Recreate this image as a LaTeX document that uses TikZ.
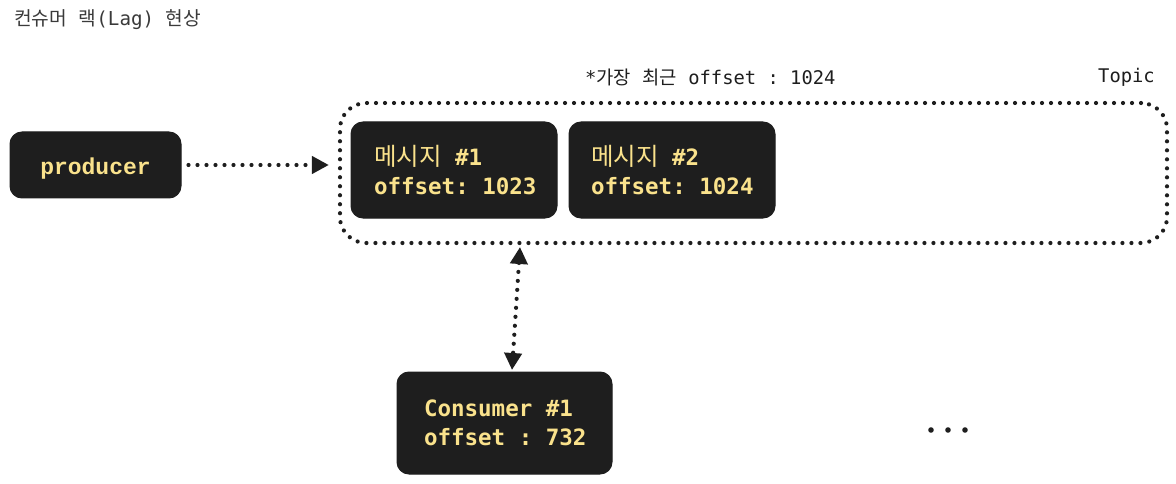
\documentclass[tikz,border=0pt]{standalone}
\usepackage{fontspec}
\setmonofont{DejaVu Sans Mono}
\newfontfamily\kr{Noto Sans CJK KR}
\newfontfamily\slab{Liberation Mono}
\usetikzlibrary{arrows.meta}
\definecolor{boxbg}{HTML}{1E1E1E}
\definecolor{boxtxt}{HTML}{FAE28C}
\definecolor{ink}{HTML}{1E1E1E}
\definecolor{titlegray}{HTML}{3A3A3A}
\newcommand{\msp}{\hspace*{0.602em}}
\newcommand{\krbox}[1]{{\kr\mdseries\fontsize{24.5}{29}\selectfont #1}}
\tikzset{
  darkbox/.style={fill=boxbg, draw=boxbg, rounded corners=12pt, line width=1pt,
    text=boxtxt, font=\fontsize{22.5}{29}\selectfont\ttfamily\bfseries},
  dotline/.style={draw=ink, line width=4.2pt, line cap=round, dash pattern=on 0pt off 9pt},
  tip/.style={-{Triangle[length=17pt,width=17pt]}},
  plain/.style={font=\fontsize{18.8}{22}\selectfont\ttfamily, text=ink, inner sep=0pt}
}
\begin{document}
\begin{tikzpicture}[x=1pt,y=-1pt]
\useasboundingbox (0,0) rectangle (1176,484);
% title
\node[plain, font=\fontsize{19.2}{22}\selectfont\ttfamily, text=titlegray, anchor=west] (title) at (14,20) {{\kr 컨슈머}\msp{\kr 랙}(Lag)\msp{\kr 현상}};
% labels
\node[plain, anchor=west] (latest) at (585,77) {*{\kr 가장}\msp{\kr 최근}\msp offset\msp:\msp1024};
\node[plain, anchor=west] (topiclbl) at (1098,77) {Topic};
% topic container
\node[dotline, rounded corners=26pt, minimum width=827pt, minimum height=140pt, inner sep=0pt] (topic) at (753.5,173) {};
% producer
\node[darkbox, minimum width=171pt, minimum height=66pt, inner sep=0pt, text height=22pt, text depth=2pt,
  font=\fontsize{23}{29}\selectfont\slab\bfseries] (producer) at (95.5,165) {producer};
% messages
\node[darkbox, minimum width=206pt, minimum height=96pt, inner xsep=23pt, text width=160pt, align=left] (m1) at (454,170)
  {\krbox{메시지}\msp\#1\\offset:\msp1023};
\node[darkbox, minimum width=206pt, minimum height=96pt, inner xsep=22pt, text width=162pt, align=left] (m2) at (672,170)
  {\krbox{메시지}\msp\#2\\offset:\msp1024};
% consumer
\node[darkbox, minimum width=215pt, minimum height=102pt, inner xsep=27pt, text width=161pt, align=left] (c1) at (504.5,423)
  {Consumer\msp\#1\\offset\msp:\msp732};
% dots
\fill[ink] (931,430) circle (2.8pt) (948,430) circle (2.8pt) (965,430) circle (2.8pt);
% arrows
\draw[dotline, tip] ([xshift=7pt]producer.east) -- ([xshift=-9pt]topic.west |- producer.east);
\coordinate (ctop) at (520,247);
\coordinate (cbot) at (512,370);
\draw[dotline, {Triangle[length=17pt,width=17pt]}-{Triangle[length=17pt,width=17pt]}] (ctop) -- (cbot);
\end{tikzpicture}
\end{document}
